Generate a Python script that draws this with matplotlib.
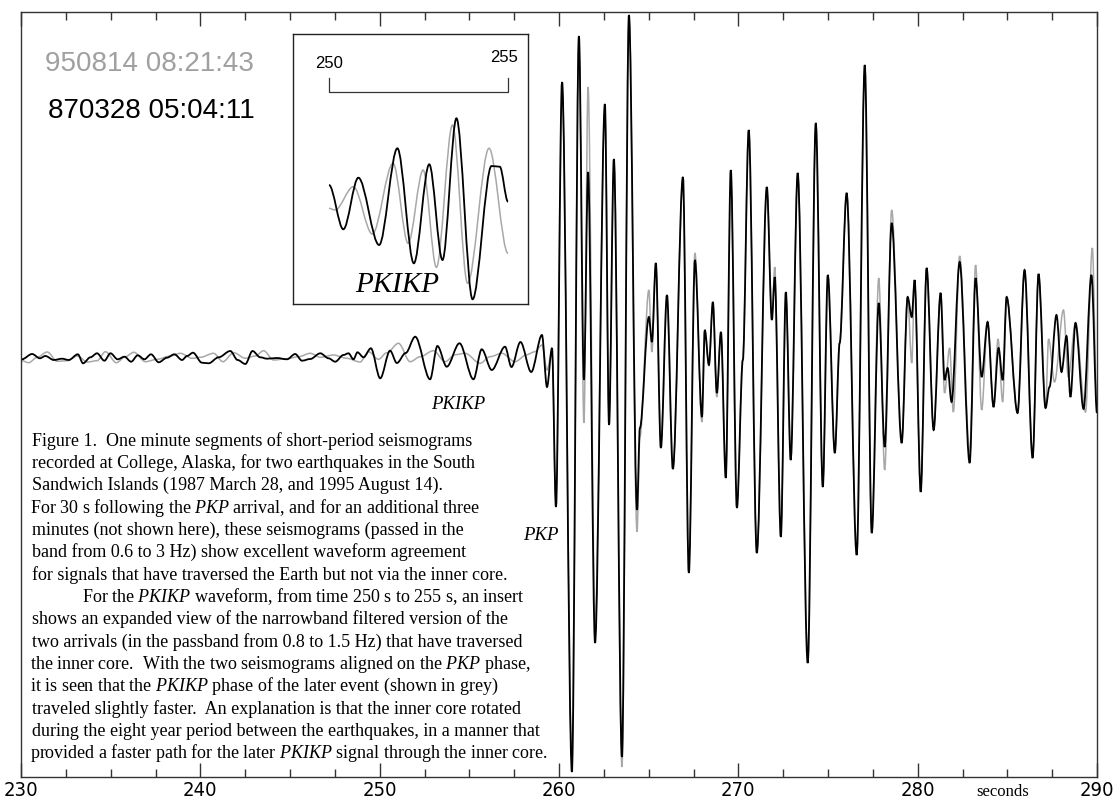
import matplotlib
matplotlib.use("Agg")
import matplotlib.pyplot as plt
from matplotlib.path import Path
from matplotlib.patches import PathPatch
from matplotlib.ticker import MultipleLocator

# ---------------- data ----------------
# 1987 event (black): time in s, amplitude in arbitrary units
black_t = [230.05, 230.62, 231.05, 231.36, 231.83, 232.29, 232.66, 233.17, 233.46, 233.87,
           234.24, 234.65, 234.99, 235.39, 235.77, 236.14, 236.51, 236.88, 237.25, 237.68,
           238.14, 238.55, 238.98, 239.26, 239.59, 240.09, 240.46, 241.02, 241.67, 242.08,
           242.51, 242.91, 243.34, 243.72, 244.27, 244.83, 245.29, 245.67, 246.13, 246.69,
           247.15, 247.52, 247.98, 248.26, 248.54, 248.76, 249.10, 249.51, 250.03, 250.58,
           250.96, 251.45, 251.98, 252.81, 253.22, 253.74, 254.45, 255.23, 255.69, 256.25,
           256.99, 257.35, 257.85, 258.45,
           259.05, 259.33, 259.61, 259.83, 260.17, 260.72, 261.11, 261.39, 261.62, 262.01,
           262.56, 262.79, 263.06, 263.51, 263.90, 264.35, 264.51, 265.01, 265.18, 265.40,
           265.68, 266.02, 266.35, 266.91, 267.24, 267.58, 267.97, 268.13, 268.36, 268.58,
           268.80, 269.03, 269.30, 269.58, 269.92, 270.25, 270.58, 271.03, 271.59, 271.87,
           272.03, 272.37, 272.65, 272.92, 273.31, 273.87, 274.32, 274.71, 274.99, 275.38,
           275.65, 276.04, 276.60, 277.05, 277.44, 277.83, 278.16, 278.55, 279.11, 279.44,
           279.67, 279.83, 280.17, 280.50, 280.89, 281.28, 281.50, 281.67, 281.89, 282.34,
           282.90, 283.23, 283.57, 283.90, 284.23, 284.51, 284.74, 284.96, 285.57, 285.96,
           286.41, 286.74, 287.13, 287.35, 287.74, 288.02, 288.30, 288.52, 288.80, 289.25,
           289.69, 290.00]
black_a = [-2.3, 3, -1.3, 1, -3, -1.7, -3, 2.7, -6.3, -0.3,
           3.7, -3.7, 3.7, -2.3, 0.3, -4.7, 1.7, -2.3, 2.7, -5.3,
           -0.7, 2.7, -3, 1, 4.3, -5.7, -6.3, -0.3, 6, -3,
           -7, 6, -0.3, -1.7, -1, -2.3, 3, -3.7, -2, 3.7,
           -1.3, -4.7, 2, 3.7, -2.3, 4.7, -0.3, 8.7, -21.3, 6.3,
           -6, 4, 20.3, -22.3, 11, -9.7, 13.7, -22.3, 7.7, -13,
           10.3, -10, 15, -15,
           22, -30, 9, -150, 275, -415, 321, -23, 185, -286,
           253, -68, 198, -400, 342, -153, -71, 40, 15, 94,
           -91, 62, -112, 180, -216, 97, -60, 27, -8, 55,
           -36, 25, -121, 187, -151, -3, 227, -196, 170, 37,
           80, -180, 65, -103, 184, -306, 234, -130, 82, -96,
           14, 164, -198, 292, -176, 54, -90, 134, -86, 60,
           40, 77, -135, 89, -73, 64, -23, -11, -45, 95,
           -106, 79, -20, 35, -50, 9, -23, 60, -56, 87,
           -101, 83, -51, -30, 42, -15, 21, -40, 34, -52,
           82, -56]

# 1995 event (grey)
grey_t = [230.05, 230.43, 230.90, 231.46, 232.02, 232.57, 233.13, 233.72, 234.24, 234.71,
          235.32, 235.82, 236.29, 236.94, 237.59, 238.33, 238.89, 239.54, 240.00, 240.74,
          241.26, 241.86, 242.51, 243.06, 243.53, 244.08, 244.83, 245.48, 246.13, 246.69,
          247.43, 248.17, 248.91, 249.38, 249.93, 250.40, 251.05, 251.70, 252.26, 253.00,
          253.65, 254.21, 254.76, 255.60, 256.16, 256.81, 257.55, 258.20, 258.66,
          259.05, 259.33, 259.61, 259.83, 260.17, 260.72, 261.11, 261.39, 261.62, 262.01,
          262.56, 262.79, 263.06, 263.51, 263.90, 264.35, 264.51, 265.01, 265.18, 265.40,
          265.68, 266.02, 266.35, 266.91, 267.24, 267.58, 267.97, 268.13, 268.36, 268.58,
          268.80, 269.03, 269.30, 269.58, 269.92, 270.25, 270.58, 271.03, 271.59, 271.87,
          272.03, 272.37, 272.65, 272.92, 273.31, 273.87, 274.32, 274.71, 274.99, 275.38,
          275.65, 276.04, 276.60, 277.05, 277.44, 277.83, 278.16, 278.55, 279.11, 279.44,
          279.67, 279.83, 280.17, 280.50, 280.89, 281.28, 281.50, 281.78, 281.99, 282.34,
          282.90, 283.23, 283.57, 283.90, 284.23, 284.48, 284.74, 284.96, 285.57, 285.96,
          286.41, 286.74, 287.13, 287.30, 287.63, 288.13, 288.40, 288.80, 289.36, 289.74,
          290.00]
grey_a = [-3.7, -5.7, -0.3, 5, -4.3, -3.7, 1, -5, -3.7, 5.3,
          -5.7, 0.3, 4.7, -4.7, -2.3, 1, 3.7, -1.3, -0.3, 3.7,
          -4.7, 4.3, -1.3, 1, 6.3, -3, -1.7, 0.3, 3.7, -0.3,
          2, -1.3, -5, 5.3, -2.3, 4.3, 13.7, -4.7, 0.3, 6.3,
          -4.7, 2.3, 3.7, -6.3, 0.3, 3.7, -4.7, 2.3, 5.3,
          12, -13, 5, -150, 275, -400, 321, -66, 270, -265,
          253, -68, 198, -410, 342, -175, -80, 67, 5, 94,
          -91, 62, -112, 180, -216, 104, -65, 27, -8, 55,
          -40, 25, -121, 187, -151, -3, 227, -196, 170, 37,
          90, -180, 65, -103, 184, -306, 234, -130, 82, -96,
          14, 164, -198, 292, -176, 79, -113, 147, -86, 60,
          -6, 77, -135, 89, -73, 64, -36, 9, -55, 101,
          -95, 92, -53, 35, -50, 18, -45, 60, -56, 87,
          -101, 83, -51, 18, -25, 47, -20, 34, -55, 109,
          -56]

# insert: narrowband PKIKP, 250-255 s
ins_black_t = [250.00, 250.40, 250.82, 251.40, 251.91, 252.37, 252.80, 253.17, 253.56, 254.01,
               254.54, 254.77, 255.00]
ins_black_a = [25, -19.3, 32.3, -35, 61.7, -53.3, 45.7, -50, 91.7, -89.3, 44, 43.3, 8.3]
ins_grey_t = [250.00, 250.17, 250.68, 251.21, 251.79, 252.21, 252.63, 253.00, 253.45, 253.87,
              254.47, 255.00]
ins_grey_a = [1.7, 0, 23.3, -24, 46.7, -33.3, 40, -57.3, 85, -73.3, 61.7, -43.3]

x_ticks = [230, 240, 250, 260, 270, 280, 290]
date_late = "950814 08:21:43"
date_early = "870328 05:04:11"

caption = [
    r"Figure 1.  One minute segments of short-period seismograms",
    r"recorded at College, Alaska, for two earthquakes in the South",
    r"Sandwich Islands (1987 March 28, and 1995 August 14).",
    r"For 30 s following the $\mathit{PKP}$ arrival, and for an additional three",
    r"minutes (not shown here), these seismograms (passed in the",
    r"band from 0.6 to 3 Hz) show excellent waveform agreement",
    r"for signals that have traversed the Earth but not via the inner core.",
    r"For the $\mathit{PKIKP}$ waveform, from time 250 s to 255 s, an insert",
    r"shows an expanded view of the narrowband filtered version of the",
    r"two arrivals (in the passband from 0.8 to 1.5 Hz) that have traversed",
    r"the inner core.  With the two seismograms aligned on the $\mathit{PKP}$ phase,",
    r"it is seen that the $\mathit{PKIKP}$ phase of the later event (shown in grey)",
    r"traveled slightly faster.  An explanation is that the inner core rotated",
    r"during the eight year period between the earthquakes, in a manner that",
    r"provided a faster path for the later $\mathit{PKIKP}$ signal through the inner core.",
]

# ---------------- styling ----------------
plt.rcParams['mathtext.fontset'] = 'custom'
plt.rcParams['mathtext.rm'] = 'Liberation Serif'
plt.rcParams['mathtext.it'] = 'Liberation Serif:italic'

W, H = 1114, 799
fig = plt.figure(figsize=(W / 100, H / 100), dpi=100)


def fx(px):
    return px / W


def fy(py):
    return 1 - py / H


def smooth_path(t, a):
    verts = [(t[0], a[0])]
    codes = [Path.MOVETO]
    for i in range(len(t) - 1):
        dt = t[i + 1] - t[i]
        verts += [(t[i] + dt / 3, a[i]), (t[i + 1] - dt / 3, a[i + 1]), (t[i + 1], a[i + 1])]
        codes += [Path.CURVE4] * 3
    return Path(verts, codes)


ax = fig.add_axes([fx(21), fy(777), fx(1097 - 21), (777 - 12) / H])
ax.add_patch(PathPatch(smooth_path(grey_t, grey_a), fill=False, ec='#a8a8a8', lw=1.1, zorder=2))
ax.add_patch(PathPatch(smooth_path(black_t, black_a), fill=False, ec='black', lw=1.3, zorder=3))
ax.set_xlim(230, 290)
ax.set_ylim(-420, 345)
ax.set_xticks(x_ticks)
ax.set_xticklabels([str(v) for v in x_ticks], family='DejaVu Sans', fontstretch='condensed',
                   fontsize=14.5)
ax.xaxis.set_minor_locator(MultipleLocator(2.5))
ax.set_yticks([])
ax.tick_params(axis='x', which='both', direction='in', top=True, bottom=True,
               color='#333333', width=1.0)
ax.tick_params(axis='x', which='major', length=10, pad=3)
ax.tick_params(axis='x', which='minor', length=5.5)
for s in ax.spines.values():
    s.set_linewidth(1.0)
    s.set_color('#333333')

ax.text(254.37, -48, 'PKIKP', family='Liberation Serif', style='italic', fontsize=13.5,
        ha='center', va='center')
ax.text(259.0, -178, 'PKP', family='Liberation Serif', style='italic', fontsize=13.5,
        ha='center', va='center')

fig.text(fx(1003), fy(792), 'seconds', family='Liberation Serif', fontsize=12,
         ha='center', va='center')

fig.text(fx(45), fy(64), date_late, family='Liberation Sans', fontsize=20,
         color='#a0a0a0', ha='left', va='center')
fig.text(fx(48), fy(111), date_early, family='Liberation Sans', fontsize=20,
         color='black', ha='left', va='center')

# caption
y0, dy = 445.5, 22.35
for i, line in enumerate(caption):
    x = 84 if i == 7 else 32
    if '$' in line:
        x -= 2
    fig.text(fx(x), fy(y0 + i * dy), line, family='Liberation Serif', fontsize=13.0,
             ha='left', va='baseline')

# insert
axi = fig.add_axes([fx(293), fy(304), fx(528 - 293), (304 - 34) / H])
axi.set_xlim(250 - 36 / 35.8, 255 + 20 / 35.8)
axi.set_ylim(-94, 176)
axi.set_xticks([])
axi.set_yticks([])
for s in axi.spines.values():
    s.set_linewidth(1.0)
    s.set_color('#222222')
axi.add_patch(PathPatch(smooth_path(ins_grey_t, ins_grey_a), fill=False, ec='#a8a8a8', lw=1.1))
axi.add_patch(PathPatch(smooth_path(ins_black_t, ins_black_a), fill=False, ec='black', lw=1.3))
axi.plot([250, 250, 255, 255], [132, 118, 118, 132], color='#333333', lw=0.9)
axi.text(250, 147, '250', family='Liberation Sans', fontsize=12, ha='center', va='center')
axi.text(254.89, 152, '255', family='Liberation Sans', fontsize=12, ha='center', va='center')
axi.text(251.9, -75, 'PKIKP', family='Liberation Serif', style='italic', fontsize=21,
         ha='center', va='center')

fig.savefig('out.png', dpi=100)
